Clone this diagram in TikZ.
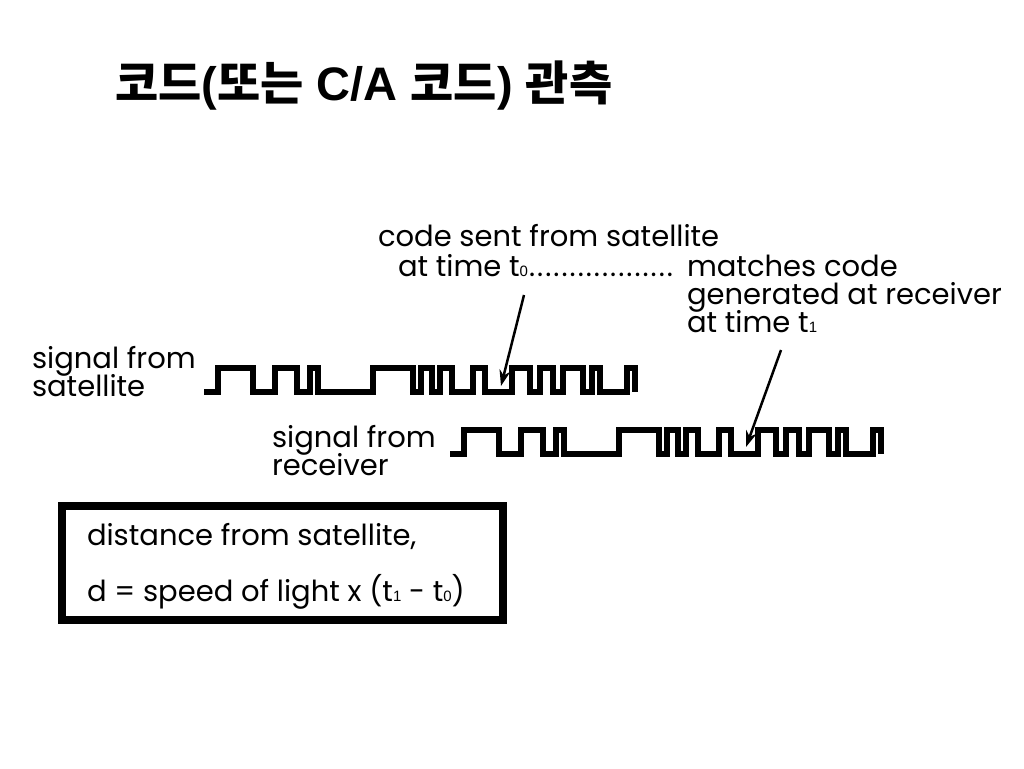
\documentclass[tikz,border=0pt]{standalone}
\usepackage{fontspec}
\setmainfont{Poppins}
\newfontfamily\krfont{Noto Sans CJK KR}
\newfontfamily\arialfont{Liberation Sans}
\usetikzlibrary{arrows.meta,positioning}

% small index digit written on the baseline (t0, t1)
\newcommand{\idx}[1]{{\arialfont\fontsize{15}{15}\selectfont #1}}
% row of dots after t0
\newcommand{\dotrow}[1]{\makebox[#1][l]{\xleaders\hbox to 8pt{\hss.\hss}\hfill}}
% the chip sequence of the code, one pulse train
\newcommand{\codewave}{(204,392) -| (218,368) -| (253,392) -| (275,368) -| (297,392)
  -| (310,368) -| (318,392) -| (373,368) -| (413,392) -| (421,368) -| (432,392)
  -| (440,368) -| (452,392) -| (473,368) -| (485,392) -| (512,368) -| (530,392)
  -| (540,368) -| (553,392) -| (563,368) -| (583,392) -| (592,368) -| (600,392)
  -| (627,368) -| (635,392)}

\begin{document}
\begin{tikzpicture}[x=1pt,y=-1pt]
    \tikzstyle{every node}=[inner sep=0pt,outer sep=0pt]
    \tikzstyle{note}=[font=\fontsize{29}{30}\selectfont,anchor=base west]
    \tikzstyle{pulse}=[line width=5.5pt,line join=miter,line cap=butt]
    \tikzstyle{pointer}=[line width=2.5pt,-{Stealth[length=16pt,width=11pt]}]

    \useasboundingbox (0,0) rectangle (1024,768);

    % title
    \node[anchor=base west,font=\fontsize{47}{47}\selectfont\bfseries] (title) at (115,100)
      {{\krfont 코드}{\arialfont (}{\krfont 또는}{\arialfont\ C/A }{\krfont 코드}{\arialfont ) }{\krfont 관측}};

    % labels of the code
    \node[note] (sent) at (378,246) {code sent from satellite};
    \node[note] (sent-time) at (398,276) {at time t\idx{0}\dotrow{146pt}};
    \node[note] (match) at (687,276) {matches code};
    \node[note] (match-gen) at (687,304) {generated at receiver};
    \node[note] (match-time) at (687,332) {at time t\idx{1}};

    % signal from satellite
    \node[note] (sat1) at (32,368) {signal from};
    \node[note] (sat2) at (32,396) {satellite};
    \draw[pulse] \codewave;

    % signal from receiver
    \node[note] (rcv1) at (272,447) {signal from};
    \node[note] (rcv2) at (272,475) {receiver};
    \begin{scope}[shift={(246,62)}]
      \draw[pulse] \codewave;
    \end{scope}

    % pointers to the matching chips
    \coordinate (tail0) at (524,295);
    \coordinate (tip0) at (501,386);
    \coordinate (tail1) at (781,350);
    \coordinate (tip1) at (746,447);
    \draw[pointer] (tail0) -- (tip0);
    \draw[pointer] (tail1) -- (tip1);

    % distance box
    \node[draw,line width=8pt,minimum width=441,minimum height=114,anchor=north west] (distbox) at (62,506) {};
    \node[note] (dist1) at (87,545) {distance from satellite,};
    \node[note] (dist2) at (87,601) {d = speed of light x (t\idx{1} - t\idx{0})};
\end{tikzpicture}
\end{document}
